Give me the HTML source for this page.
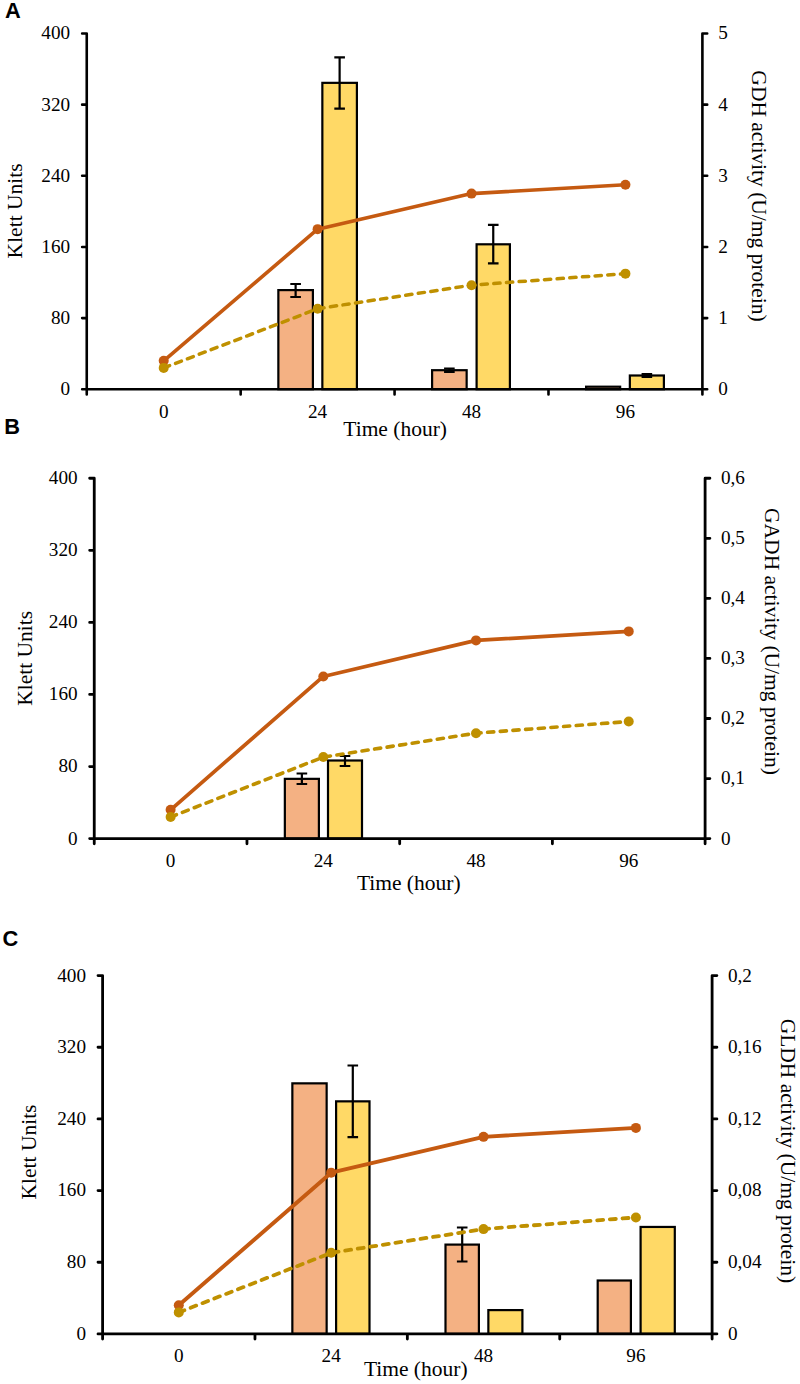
<!DOCTYPE html>
<html><head><meta charset="utf-8"><style>
html,body{margin:0;padding:0;background:#fff;}
body{width:800px;height:1384px;overflow:hidden;}
svg{display:block;}
.t{font-family:"Liberation Serif",serif;fill:#000;}
.lab{font-family:"Liberation Sans",sans-serif;font-weight:bold;fill:#000;}
</style></head><body>
<svg width="800" height="1384" viewBox="0 0 800 1384">
<rect width="800" height="1384" fill="#fff"/>

<text class="lab" x="5" y="17.9" font-size="21.8">A</text>
<rect x="278.35" y="290.1" width="34.55" height="99.15" fill="#F4B183" stroke="#000" stroke-width="2.2"/>
<rect x="322.35" y="82.85" width="34.55" height="306.4" fill="#FFD966" stroke="#000" stroke-width="2.2"/>
<rect x="432.1" y="370.2" width="34.55" height="19.05" fill="#F4B183" stroke="#000" stroke-width="2.2"/>
<rect x="476.6" y="244.3" width="33.3" height="144.95" fill="#FFD966" stroke="#000" stroke-width="2.2"/>
<rect x="586.1" y="386.7" width="34.05" height="2.55" fill="#F4B183" stroke="#000" stroke-width="2.2"/>
<rect x="629.85" y="375.5" width="34.05" height="13.75" fill="#FFD966" stroke="#000" stroke-width="2.2"/>
<path d="M295.62 284V297M290.32 284H300.93M290.32 297H300.93" stroke="#000" stroke-width="2.2" fill="none"/>
<path d="M339.62 57.4V108.6M334.32 57.4H344.93M334.32 108.6H344.93" stroke="#000" stroke-width="2.2" fill="none"/>
<path d="M449.38 368.5V372M444.07 368.5H454.68M444.07 372H454.68" stroke="#000" stroke-width="2.2" fill="none"/>
<path d="M493.25 224.8V263.3M487.95 224.8H498.55M487.95 263.3H498.55" stroke="#000" stroke-width="2.2" fill="none"/>
<path d="M646.88 374V377M641.58 374H652.17M641.58 377H652.17" stroke="#000" stroke-width="2.2" fill="none"/>
<polyline points="163.71,360.79 317.62,229.16 471.53,193.59 625.44,184.69" fill="none" stroke="#C55A11" stroke-width="3.6" stroke-linejoin="round"/>
<circle cx="163.71" cy="360.79" r="5" fill="#C55A11"/>
<circle cx="317.62" cy="229.16" r="5" fill="#C55A11"/>
<circle cx="471.53" cy="193.59" r="5" fill="#C55A11"/>
<circle cx="625.44" cy="184.69" r="5" fill="#C55A11"/>
<polyline points="163.71,367.9 317.62,308.76 471.53,285.19 625.44,273.63" fill="none" stroke="#BF9000" stroke-width="3.5" stroke-dasharray="6.3 6.4" stroke-linecap="round" stroke-linejoin="round"/>
<circle cx="163.71" cy="367.9" r="5" fill="#BF9000"/>
<circle cx="317.62" cy="308.76" r="5" fill="#BF9000"/>
<circle cx="471.53" cy="285.19" r="5" fill="#BF9000"/>
<circle cx="625.44" cy="273.63" r="5" fill="#BF9000"/>
<path d="M86.75 33.5V394.45M702.4 33.5V394.45M82.15 389.25H702.4M82.15 389.25H86.75M82.15 318.1H86.75M82.15 246.95H86.75M82.15 175.8H86.75M82.15 104.65H86.75M82.15 33.5H86.75M702.4 389.25H707.2M702.4 318.1H707.2M702.4 246.95H707.2M702.4 175.8H707.2M702.4 104.65H707.2M702.4 33.5H707.2M240.66 389.25V394.45M394.57 389.25V394.45M548.49 389.25V394.45" stroke="#000" stroke-width="2.6" fill="none" stroke-linecap="round"/>
<text class="t" x="70.15" y="395.15" font-size="19.2" text-anchor="end">0</text>
<text class="t" x="70.15" y="324" font-size="19.2" text-anchor="end">80</text>
<text class="t" x="70.15" y="252.85" font-size="19.2" text-anchor="end">160</text>
<text class="t" x="70.15" y="181.7" font-size="19.2" text-anchor="end">240</text>
<text class="t" x="70.15" y="110.55" font-size="19.2" text-anchor="end">320</text>
<text class="t" x="70.15" y="39.4" font-size="19.2" text-anchor="end">400</text>
<text class="t" x="718.2" y="395.15" font-size="19.2">0</text>
<text class="t" x="718.2" y="324" font-size="19.2">1</text>
<text class="t" x="718.2" y="252.85" font-size="19.2">2</text>
<text class="t" x="718.2" y="181.7" font-size="19.2">3</text>
<text class="t" x="718.2" y="110.55" font-size="19.2">4</text>
<text class="t" x="718.2" y="39.4" font-size="19.2">5</text>
<text class="t" x="163.71" y="417.75" font-size="19.2" text-anchor="middle">0</text>
<text class="t" x="317.62" y="417.75" font-size="19.2" text-anchor="middle">24</text>
<text class="t" x="471.53" y="417.75" font-size="19.2" text-anchor="middle">48</text>
<text class="t" x="625.44" y="417.75" font-size="19.2" text-anchor="middle">96</text>
<text class="t" x="395.15" y="435.6" font-size="21.5" text-anchor="middle">Time (hour)</text>
<text class="t" font-size="21.5" text-anchor="middle" transform="translate(22 210.9) rotate(-90)">Klett Units</text>
<text class="t" font-size="21.5" text-anchor="middle" transform="translate(752.3 196.05) rotate(90)">GDH activity (U/mg protein)</text>
<text class="lab" x="4.3" y="434.3" font-size="21.8">B</text>
<rect x="284.85" y="778.85" width="34.05" height="59.75" fill="#F4B183" stroke="#000" stroke-width="2.2"/>
<rect x="328" y="760.5" width="34" height="78.1" fill="#FFD966" stroke="#000" stroke-width="2.2"/>
<path d="M301.88 773.5V784M296.57 773.5H307.18M296.57 784H307.18" stroke="#000" stroke-width="2.2" fill="none"/>
<path d="M345 756V766M339.7 756H350.3M339.7 766H350.3" stroke="#000" stroke-width="2.2" fill="none"/>
<polyline points="170.61,809.77 323.32,676.44 476.03,640.41 628.74,631.4" fill="none" stroke="#C55A11" stroke-width="3.7" stroke-linejoin="round"/>
<circle cx="170.61" cy="809.77" r="5" fill="#C55A11"/>
<circle cx="323.32" cy="676.44" r="5" fill="#C55A11"/>
<circle cx="476.03" cy="640.41" r="5" fill="#C55A11"/>
<circle cx="628.74" cy="631.4" r="5" fill="#C55A11"/>
<polyline points="170.61,816.98 323.32,757.07 476.03,733.2 628.74,721.49" fill="none" stroke="#BF9000" stroke-width="3.6" stroke-dasharray="6.2 6.5" stroke-linecap="round" stroke-linejoin="round"/>
<circle cx="170.61" cy="816.98" r="5" fill="#BF9000"/>
<circle cx="323.32" cy="757.07" r="5" fill="#BF9000"/>
<circle cx="476.03" cy="733.2" r="5" fill="#BF9000"/>
<circle cx="628.74" cy="721.49" r="5" fill="#BF9000"/>
<path d="M94.25 478.25V843.8M705.1 478.25V843.8M89.65 838.6H705.1M89.65 838.6H94.25M89.65 766.53H94.25M89.65 694.46H94.25M89.65 622.39H94.25M89.65 550.32H94.25M89.65 478.25H94.25M705.1 838.6H709.9M705.1 778.54H709.9M705.1 718.48H709.9M705.1 658.42H709.9M705.1 598.37H709.9M705.1 538.31H709.9M705.1 478.25H709.9M246.96 838.6V843.8M399.68 838.6V843.8M552.39 838.6V843.8" stroke="#000" stroke-width="2.8" fill="none" stroke-linecap="round"/>
<text class="t" x="77.65" y="844.5" font-size="19.2" text-anchor="end">0</text>
<text class="t" x="77.65" y="772.43" font-size="19.2" text-anchor="end">80</text>
<text class="t" x="77.65" y="700.36" font-size="19.2" text-anchor="end">160</text>
<text class="t" x="77.65" y="628.29" font-size="19.2" text-anchor="end">240</text>
<text class="t" x="77.65" y="556.22" font-size="19.2" text-anchor="end">320</text>
<text class="t" x="77.65" y="484.15" font-size="19.2" text-anchor="end">400</text>
<text class="t" x="720.9" y="844.5" font-size="19.2">0</text>
<text class="t" x="720.9" y="784.44" font-size="19.2">0,1</text>
<text class="t" x="720.9" y="724.38" font-size="19.2">0,2</text>
<text class="t" x="720.9" y="664.32" font-size="19.2">0,3</text>
<text class="t" x="720.9" y="604.27" font-size="19.2">0,4</text>
<text class="t" x="720.9" y="544.21" font-size="19.2">0,5</text>
<text class="t" x="720.9" y="484.15" font-size="19.2">0,6</text>
<text class="t" x="170.61" y="866.8" font-size="19.2" text-anchor="middle">0</text>
<text class="t" x="323.32" y="866.8" font-size="19.2" text-anchor="middle">24</text>
<text class="t" x="476.03" y="866.8" font-size="19.2" text-anchor="middle">48</text>
<text class="t" x="628.74" y="866.8" font-size="19.2" text-anchor="middle">96</text>
<text class="t" x="408.75" y="889.5" font-size="21.5" text-anchor="middle">Time (hour)</text>
<text class="t" font-size="21.5" text-anchor="middle" transform="translate(32.2 658.3) rotate(-90)">Klett Units</text>
<text class="t" font-size="21.5" text-anchor="middle" transform="translate(765.3 641.5) rotate(90)">GADH activity (U/mg protein)</text>
<text class="lab" x="2.4" y="946.3" font-size="21.8">C</text>
<rect x="292.35" y="1083.35" width="34.3" height="250.55" fill="#F4B183" stroke="#000" stroke-width="2.2"/>
<rect x="336.1" y="1101.35" width="33.4" height="232.55" fill="#FFD966" stroke="#000" stroke-width="2.2"/>
<rect x="445.5" y="1244.6" width="33.4" height="89.3" fill="#F4B183" stroke="#000" stroke-width="2.2"/>
<rect x="488.35" y="1310.1" width="34.05" height="23.8" fill="#FFD966" stroke="#000" stroke-width="2.2"/>
<rect x="597.7" y="1280.5" width="33.2" height="53.4" fill="#F4B183" stroke="#000" stroke-width="2.2"/>
<rect x="640.6" y="1226.95" width="34.2" height="106.95" fill="#FFD966" stroke="#000" stroke-width="2.2"/>
<path d="M352.8 1065.5V1137.2M347.5 1065.5H358.1M347.5 1137.2H358.1" stroke="#000" stroke-width="2.2" fill="none"/>
<path d="M462.2 1227.5V1261.5M456.9 1227.5H467.5M456.9 1261.5H467.5" stroke="#000" stroke-width="2.2" fill="none"/>
<polyline points="178.79,1305.24 331.16,1172.66 483.54,1136.84 635.91,1127.88" fill="none" stroke="#C55A11" stroke-width="3.9" stroke-linejoin="round"/>
<circle cx="178.79" cy="1305.24" r="5" fill="#C55A11"/>
<circle cx="331.16" cy="1172.66" r="5" fill="#C55A11"/>
<circle cx="483.54" cy="1136.84" r="5" fill="#C55A11"/>
<circle cx="635.91" cy="1127.88" r="5" fill="#C55A11"/>
<polyline points="178.79,1312.4 331.16,1252.83 483.54,1229.1 635.91,1217.45" fill="none" stroke="#BF9000" stroke-width="3.8" stroke-dasharray="6 6.7" stroke-linecap="round" stroke-linejoin="round"/>
<circle cx="178.79" cy="1312.4" r="5" fill="#BF9000"/>
<circle cx="331.16" cy="1252.83" r="5" fill="#BF9000"/>
<circle cx="483.54" cy="1229.1" r="5" fill="#BF9000"/>
<circle cx="635.91" cy="1217.45" r="5" fill="#BF9000"/>
<path d="M102.6 975.6V1339.1M712.1 975.6V1339.1M98 1333.9H712.1M98 1333.9H102.6M98 1262.24H102.6M98 1190.58H102.6M98 1118.92H102.6M98 1047.26H102.6M98 975.6H102.6M712.1 1333.9H716.9M712.1 1262.24H716.9M712.1 1190.58H716.9M712.1 1118.92H716.9M712.1 1047.26H716.9M712.1 975.6H716.9M254.97 1333.9V1339.1M407.35 1333.9V1339.1M559.73 1333.9V1339.1" stroke="#000" stroke-width="2.8" fill="none" stroke-linecap="round"/>
<text class="t" x="86" y="1339.8" font-size="19.2" text-anchor="end">0</text>
<text class="t" x="86" y="1268.14" font-size="19.2" text-anchor="end">80</text>
<text class="t" x="86" y="1196.48" font-size="19.2" text-anchor="end">160</text>
<text class="t" x="86" y="1124.82" font-size="19.2" text-anchor="end">240</text>
<text class="t" x="86" y="1053.16" font-size="19.2" text-anchor="end">320</text>
<text class="t" x="86" y="981.5" font-size="19.2" text-anchor="end">400</text>
<text class="t" x="727.9" y="1339.8" font-size="19.2">0</text>
<text class="t" x="727.9" y="1268.14" font-size="19.2">0,04</text>
<text class="t" x="727.9" y="1196.48" font-size="19.2">0,08</text>
<text class="t" x="727.9" y="1124.82" font-size="19.2">0,12</text>
<text class="t" x="727.9" y="1053.16" font-size="19.2">0,16</text>
<text class="t" x="727.9" y="981.5" font-size="19.2">0,2</text>
<text class="t" x="178.79" y="1361.9" font-size="19.2" text-anchor="middle">0</text>
<text class="t" x="331.16" y="1361.9" font-size="19.2" text-anchor="middle">24</text>
<text class="t" x="483.54" y="1361.9" font-size="19.2" text-anchor="middle">48</text>
<text class="t" x="635.91" y="1361.9" font-size="19.2" text-anchor="middle">96</text>
<text class="t" x="415.75" y="1376.1" font-size="21.5" text-anchor="middle">Time (hour)</text>
<text class="t" font-size="21.5" text-anchor="middle" transform="translate(36.2 1152) rotate(-90)">Klett Units</text>
<text class="t" font-size="21.5" text-anchor="middle" transform="translate(781.3 1150.9) rotate(90)">GLDH activity (U/mg protein)</text>
</svg>
</body></html>
